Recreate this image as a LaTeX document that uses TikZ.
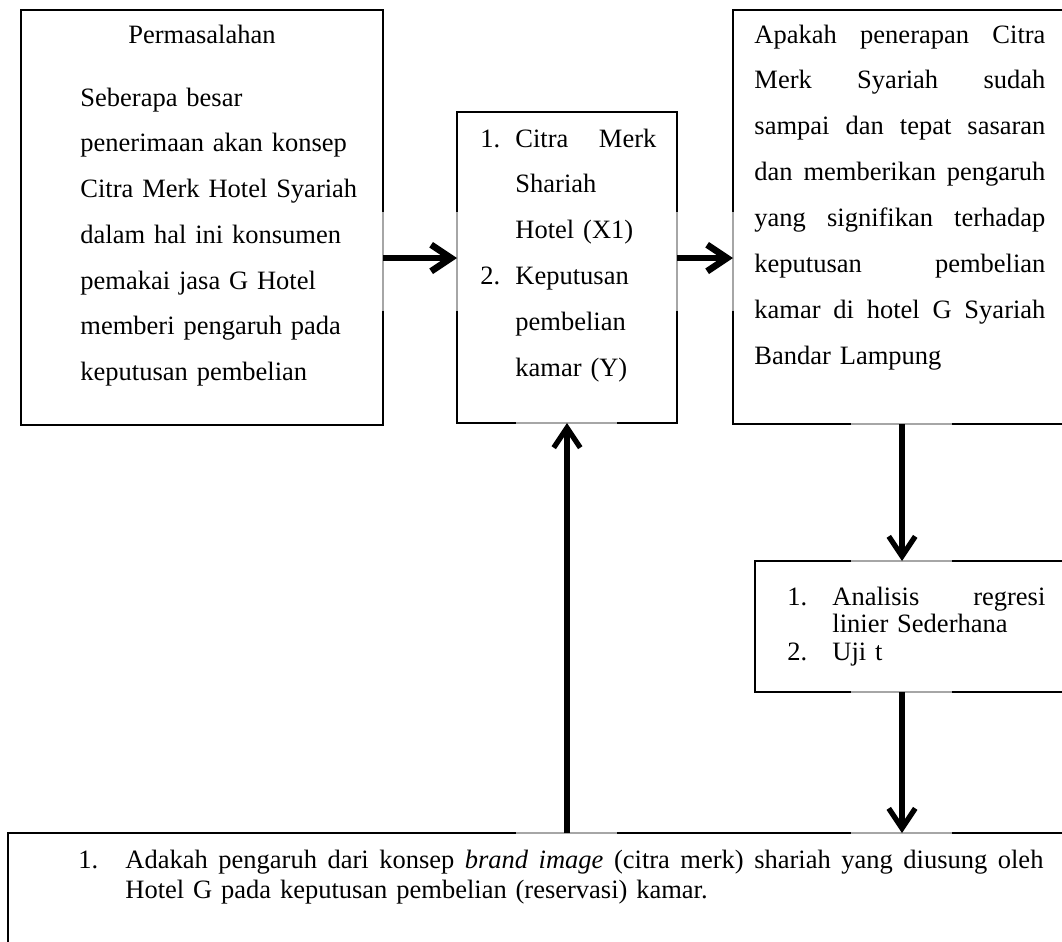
\documentclass[tikz,border=0pt]{standalone}
\usepackage{fontspec}
\setmainfont{Liberation Serif}
\usetikzlibrary{arrows.meta,fit}
\newcommand\jline[2]{\makebox[#1][s]{\spaceskip=.25em plus 1fil\relax #2}}
\tikzset{
  box/.style={draw=black, line width=0.9pt, inner sep=0pt, outer sep=0pt},
  txt/.style={inner sep=0pt, anchor=base west},
  arrH/.style={line width=3pt, -{Straight Barb[length=9pt,width=12pt]}},
  arrV/.style={line width=2.4pt, -{Straight Barb[length=9pt,width=12pt]}},
  handle/.style={draw=gray!70, line width=1.2pt}
}
\begin{document}
\begin{tikzpicture}[x=0.4527pt,y=-0.4527pt]
\useasboundingbox (0,0) rectangle (1062,941);
\clip (0,0) rectangle (1062,941);
% boxes
\node[box, fit={(21,9.5)(383,425)}] (b1) {};
\node[box, fit={(457,112)(677,423)}] (b2) {};
\node[box, fit={(733,9.5)(1080,424)}] (b3) {};
\node[box, fit={(755,561)(1080,692)}] (b4) {};
\node[box, fit={(8,833)(1080,980)}] (b5) {};
% texts
\node[inner sep=0pt, anchor=base, font=\fontsize{12}{14}\selectfont] (t1h) at (202,43) {Permasalahan};
\node[txt, text width=140pt, font=\fontsize{12}{20.73}\selectfont] (t1) at (80,106)
 {Seberapa besar\\
  penerimaan akan konsep\\
  Citra Merk Hotel Syariah\\
  dalam hal ini konsumen\\
  pemakai jasa G Hotel\\
  memberi pengaruh pada\\
  keputusan pembelian};
\node[txt, text width=79.7pt, font=\fontsize{12}{20.82}\selectfont] (t2) at (480,147)
 {\makebox[15.85pt][l]{1.}\jline{63.8pt}{Citra Merk}\\
  \hspace*{15.85pt}Shariah\\
  \hspace*{15.85pt}Hotel (X1)\\
  \makebox[15.85pt][l]{2.}Keputusan\\
  \hspace*{15.85pt}pembelian\\
  \hspace*{15.85pt}kamar (Y)};
\node[txt, text width=131.74pt, font=\fontsize{12}{20.82}\selectfont] (t3) at (754,43)
 {\jline{131.74pt}{Apakah penerapan Citra}\\
  \jline{131.74pt}{Merk Syariah sudah}\\
  \jline{131.74pt}{sampai dan tepat sasaran}\\
  \jline{131.74pt}{dan memberikan pengaruh}\\
  \jline{131.74pt}{yang signifikan terhadap}\\
  \jline{131.74pt}{keputusan pembelian}\\
  \jline{131.74pt}{kamar di hotel G Syariah}\\
  Bandar Lampung};
\node[txt, text width=116.8pt, font=\fontsize{12}{12.45}\selectfont] (t4) at (787,605)
 {\makebox[20.37pt][l]{1.}\jline{96.4pt}{Analisis regresi}\\
  \hspace*{20.37pt}linier Sederhana\\
  \makebox[20.37pt][l]{2.}Uji t};
\node[txt, text width=437pt, font=\fontsize{12}{13.58}\selectfont] (t5) at (78,868)
 {\makebox[21.28pt][l]{1.}\jline{415.6pt}{Adakah pengaruh dari konsep \textit{brand image} (citra merk) shariah yang diusung oleh}\\
  \hspace*{21.28pt}Hotel G pada keputusan pembelian (reservasi) kamar.};
% handles
\draw[handle] (383,212) -- (383,311);
\draw[handle] (457,212) -- (457,311);
\draw[handle] (677,212) -- (677,311);
\draw[handle] (733,212) -- (733,311);
\draw[handle] (851,424) -- (952,424);
\draw[handle] (851,561) -- (952,561);
\draw[handle] (851,692) -- (952,692);
\draw[handle] (851,833) -- (952,833);
\draw[handle] (516,423) -- (617,423);
\draw[handle] (516,833) -- (617,833);
% connectors
\coordinate (r) at (0,258);
\coordinate (c) at (902,0);
\coordinate (c2) at (567,0);
\draw[arrH] (b1.east|-r) -- (b2.west|-r);
\draw[arrH] (b2.east|-r) -- (b3.west|-r);
\draw[arrV] (b3.south-|c) -- (b4.north-|c);
\draw[arrV] (b4.south-|c) -- (b5.north-|c);
\draw[arrV] (b5.north-|c2) -- (b2.south-|c2);
\end{tikzpicture}
\end{document}
